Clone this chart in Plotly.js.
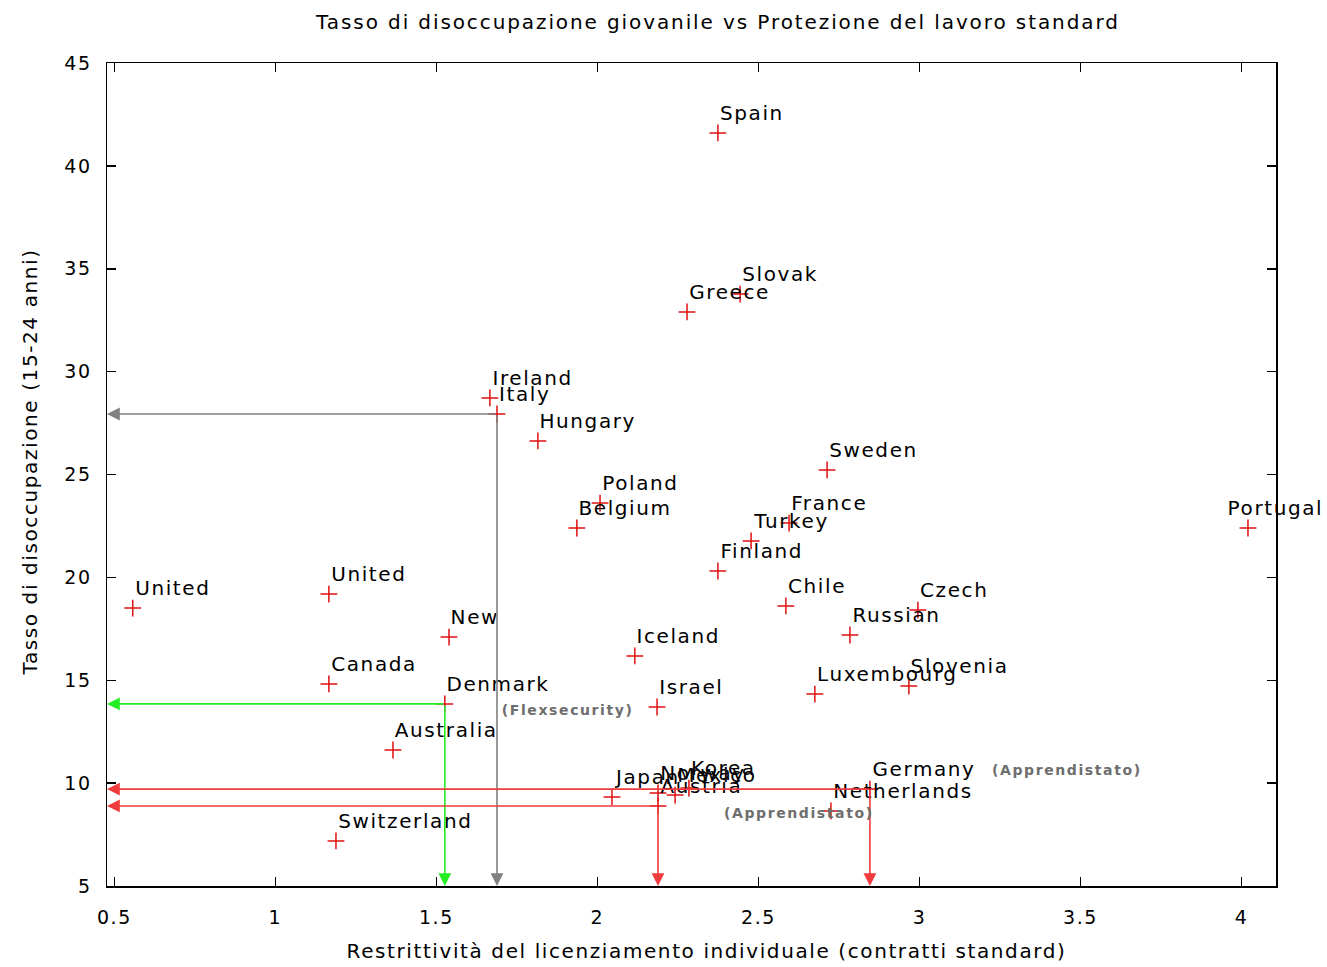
<!DOCTYPE html>
<html>
<head>
<meta charset="utf-8">
<script src="https://cdn.plot.ly/plotly-3.0.1.min.js"></script>
<style>html,body{margin:0;padding:0;background:#fff;}#chart{width:1327px;height:967px;}</style>
</head>
<body>
<div id="chart"></div>
<script>
// Country labels (as drawn: first word only)
const countries = ["Spain","Slovak","Greece","Ireland","Italy","Hungary","Sweden","Poland","Belgium","France","Turkey","Portugal","Finland","Chile","Czech","Russian","United","United","New","Iceland","Canada","Denmark","Israel","Luxembourg","Slovenia","Australia","Japan","Norway","Mexico","Korea","Austria","Germany","Netherlands","Switzerland"];
// Restrittività del licenziamento individuale
const epl = [2.374,2.443,2.278,1.666,1.688,1.815,2.713,2.008,1.936,2.595,2.477,4.020,2.374,2.585,2.995,2.784,0.557,1.166,1.539,2.116,1.166,1.526,2.185,2.675,2.967,1.365,2.045,2.188,2.241,2.284,2.188,2.846,2.725,1.188];
// Tasso di disoccupazione (15-24 anni)
const unemp = [41.60,33.77,32.90,28.72,27.94,26.63,25.22,23.61,22.40,22.64,21.77,22.40,20.31,18.61,18.41,17.20,18.51,19.19,17.10,16.18,14.82,13.85,13.70,14.33,14.72,11.61,9.33,9.52,9.42,9.76,8.89,9.71,8.65,7.19];

// Highlighted countries with projection arrows
const highlighted = ["Italy","Denmark","Austria","Germany"];
const highlightColors = ["#808080","#22ee22","#f03c3c","#f03c3c"];

// Notes
const noteTexts = ["(Flexsecurity)","(Apprendistato)","(Apprendistato)"];
const noteX = [1.697,2.387,3.219];
const noteY = [13.55,8.55,10.64];

const xTicks = [0.5,1,1.5,2,2.5,3,3.5,4];
const xTickLabels = ["0.5","1","1.5","2","2.5","3","3.5","4"];
const yTicks = [5,10,15,20,25,30,35,40,45];

const xRange = [0.477,4.107];
const yRange = [5,45];

const FONT = "DejaVu Sans, Verdana, sans-serif";
const SP = 1.6;      // extra letter spacing (px)
const SP_TITLE = 1.9;

const annotations = [];
// point labels
countries.forEach((c,i)=>{
  annotations.push({
    x: epl[i], y: unemp[i], xref:'x', yref:'y', text: c, showarrow:false,
    xanchor:'left', yanchor:'middle', xshift: ((c==="Portugal") ? -22 : 0) + c.length*SP/2, yshift: 20,
    font:{family:FONT,size:20,color:'#000'}
  });
});
// arrows
highlighted.forEach((c,k)=>{
  const i = countries.indexOf(c);
  const col = highlightColors[k];
  const common = {xref:'x', yref:'y', axref:'x', ayref:'y', showarrow:true, text:'',
    arrowhead:2, arrowsize:1.6, arrowwidth:1.6, arrowcolor:col, standoff:0, startstandoff:0};
  annotations.push(Object.assign({}, common, {x: xRange[0], y: unemp[i], ax: epl[i], ay: unemp[i]}));
  annotations.push(Object.assign({}, common, {x: epl[i], y: yRange[0], ax: epl[i], ay: unemp[i]}));
});
// notes
noteTexts.forEach((t,i)=>{
  annotations.push({x: noteX[i], y: noteY[i], xref:'x', yref:'y', text:'<b>'+t+'</b>', showarrow:false,
    xanchor:'left', yanchor:'middle', xshift: t.length*SP/2, font:{family:FONT,size:14,color:'#6e6e6e'}});
});

const trace = {
  type:'scatter', mode:'markers', x: epl, y: unemp, text: countries,
  marker:{symbol:'cross-thin', size:12, line:{width:1.5,color:'#e01010'}, color:'#e01010'},
  cliponaxis:false, hoverinfo:'text+x+y'
};

const axisCommon = {
  showgrid:false, zeroline:false, showline:true, linecolor:'#000', linewidth:1.5,
  mirror:'ticks', ticks:'inside', ticklen:9, tickwidth:1.5, tickcolor:'#000',
  tickfont:{family:FONT,size:19,color:'#000'}, automargin:false
};

const layout = {
  width:1327, height:967,
  margin:{l:107, r:51, t:63, b:81},
  paper_bgcolor:'#fff', plot_bgcolor:'#fff',
  showlegend:false,
  title:{text:'Tasso di disoccupazione giovanile vs Protezione del lavoro standard',
    font:{family:FONT,size:20,color:'#000'}, xref:'container', x:0.541, xanchor:'center', yref:'container', y:0.977, yanchor:'middle'},
  xaxis: Object.assign({}, axisCommon, {range:xRange, tickvals:xTicks, ticktext:xTickLabels, ticklabelstandoff:14,
    title:{text:'Restrittività del licenziamento individuale (contratti standard)', font:{family:FONT,size:20,color:'#000'}, standoff:16}}),
  yaxis: Object.assign({}, axisCommon, {range:yRange, tickvals:yTicks, ticklabelstandoff:10,
    title:{text:'Tasso di disoccupazione (15-24 anni)', font:{family:FONT,size:20,color:'#000'}, standoff:24}}),
  annotations: annotations
};

Plotly.newPlot('chart',[trace],layout,{displayModeBar:false, staticPlot:true}).then(gd=>{
  // the reference lettering is set wider than DejaVu; open it up a little
  gd.querySelectorAll('text').forEach(t=>{
    const cls = t.getAttribute('class') || '';
    t.style.letterSpacing = (cls.indexOf('gtitle') >= 0 ? SP_TITLE : SP) + 'px';
  });
  // the reference axis titles sit slightly off-centre
  const xt = gd.querySelector('.g-xtitle text');
  if (xt) xt.setAttribute('transform', 'translate(15,0) ' + (xt.getAttribute('transform') || ''));
  const yt = gd.querySelector('.g-ytitle text');
  if (yt) yt.setAttribute('transform', 'translate(0,-13) ' + (yt.getAttribute('transform') || ''));
});
</script>
</body>
</html>
